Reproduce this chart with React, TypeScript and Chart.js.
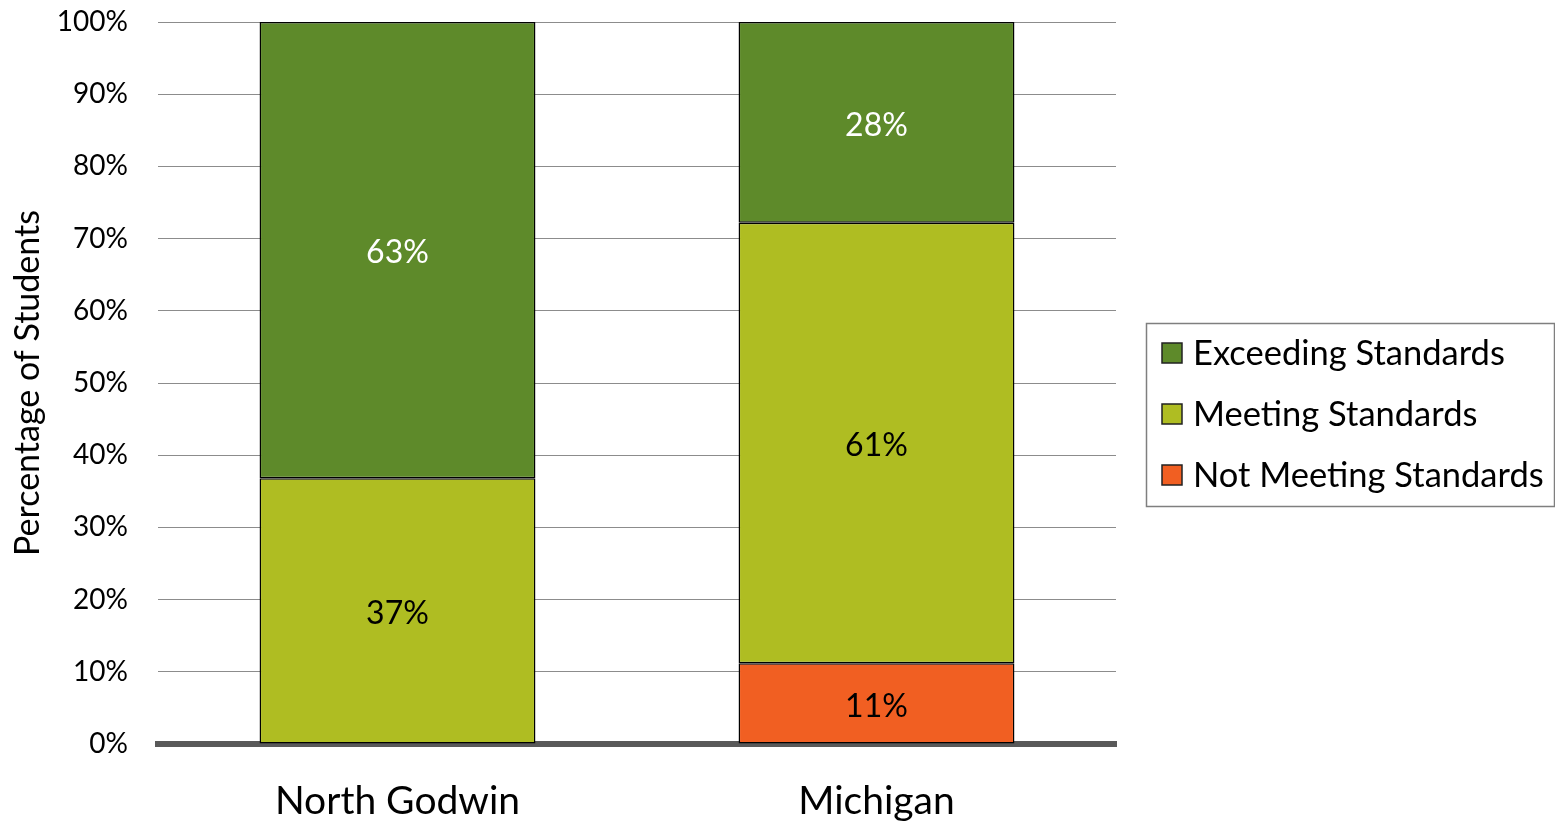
import React, { useEffect, useRef } from "react";
import { Chart, registerables } from "chart.js";

Chart.register(...registerables);

const categories = ["North Godwin", "Michigan"];
const notMeeting = [0, 11.2];
const meeting = [36.8, 61.0];
const exceeding = [63.2, 27.8];
const seriesNames = ["Not Meeting Standards", "Meeting Standards", "Exceeding Standards"];
const seriesColors = ["#f15f22", "#afbd22", "#5e8a2a"];
const labelColors = ["#000000", "#000000", "#ffffff"];
const yTicks = [0, 10, 20, 30, 40, 50, 60, 70, 80, 90, 100];
const yTitle = "Percentage of Students";

const FONT = "Lato, 'Open Sans', sans-serif";

const dataLabelPlugin = {
  id: "dataLabels",
  afterDatasetsDraw(chart: any) {
    const ctx = chart.ctx;
    ctx.save();
    ctx.font = `32px ${FONT}`;
    ctx.textAlign = "center";
    ctx.textBaseline = "middle";
    chart.data.datasets.forEach((ds: any, di: number) => {
      const meta = chart.getDatasetMeta(di);
      meta.data.forEach((el: any, i: number) => {
        const v = ds.data[i];
        if (!v) return;
        const { x, y, base } = el.getProps(["x", "y", "base"], true);
        ctx.fillStyle = labelColors[di];
        ctx.fillText(Math.round(v) + "%", x, (y + base) / 2 + 3);
      });
    });
    ctx.restore();
  },
};

const legendPlugin = {
  id: "boxLegend",
  afterDraw(chart: any) {
    const ctx = chart.ctx;
    const left = 1146.5, top = 323.5, w = 408, h = 183;
    ctx.save();
    ctx.strokeStyle = "#7f7f7f";
    ctx.lineWidth = 1.5;
    ctx.strokeRect(left, top, w, h);
    ctx.font = `34.5px ${FONT}`;
    ctx.textBaseline = "middle";
    ctx.textAlign = "left";
    const n = chart.data.datasets.length;
    for (let k = 0; k < n; k++) {
      const di = n - 1 - k;
      const ds = chart.data.datasets[di];
      const cy = 353 + k * 61;
      ctx.fillStyle = ds.backgroundColor;
      ctx.fillRect(1162, cy - 10, 20, 20);
      ctx.strokeStyle = "#222";
      ctx.lineWidth = 1.5;
      ctx.strokeRect(1162, cy - 10, 20, 20);
      ctx.fillStyle = "#000";
      ctx.fillText(ds.label, 1193, cy + 1);
    }
    ctx.restore();
  },
};

export default function App() {
  const ref = useRef<HTMLCanvasElement>(null);
  useEffect(() => {
    if (!ref.current) return;
    const seriesData = [notMeeting, meeting, exceeding];
    const chart = new Chart(ref.current, {
      type: "bar",
      data: {
        labels: categories,
        datasets: seriesNames.map((name, i) => ({
          label: name,
          data: seriesData[i],
          backgroundColor: seriesColors[i],
          borderColor: "#000000",
          borderWidth: 1.5,
          borderSkipped: false,
          barPercentage: 1,
          categoryPercentage: 0.576,
        })),
      },
      options: {
        responsive: false,
        animation: false,
        layout: { autoPadding: false, padding: { left: 0, right: 439, top: 22, bottom: 0 } },
        plugins: {
          legend: { display: false },
          tooltip: { enabled: false },
        },
        scales: {
          x: {
            stacked: true,
            grid: { display: false, drawTicks: false },
            border: { display: true, color: "#595959", width: 6 },
            ticks: {
              color: "#000",
              font: { family: FONT, size: 39 },
              padding: 34,
            },
            afterFit: (s: any) => {
              s.height = 77;
              s.paddingTop = 0;
              s.paddingBottom = 0;
            },
          },
          y: {
            stacked: true,
            min: 0,
            max: 100,
            afterBuildTicks: (s: any) => {
              s.ticks = yTicks.map((v) => ({ value: v }));
            },
            grid: { color: "#8c8c8c", lineWidth: 1, drawTicks: false },
            border: { display: false },
            ticks: {
              color: "#000",
              font: { family: FONT, size: 28 },
              padding: 30,
              callback: (v: any) => v + "%",
            },
            title: {
              display: true,
              text: yTitle,
              color: "#000",
              font: { family: FONT, size: 34 },
              padding: { top: 8, bottom: 0 },
            },
            afterFit: (s: any) => {
              s.width = 158;
              s.paddingTop = 0;
              s.paddingBottom = 0;
            },
          },
        },
      },
      plugins: [dataLabelPlugin, legendPlugin],
    });
    return () => chart.destroy();
  }, []);
  return (
    <div style={{ position: "absolute", left: 0, top: 0, width: 1555, height: 821, background: "#fff" }}>
      <canvas ref={ref} width={1555} height={821} />
    </div>
  );
}
